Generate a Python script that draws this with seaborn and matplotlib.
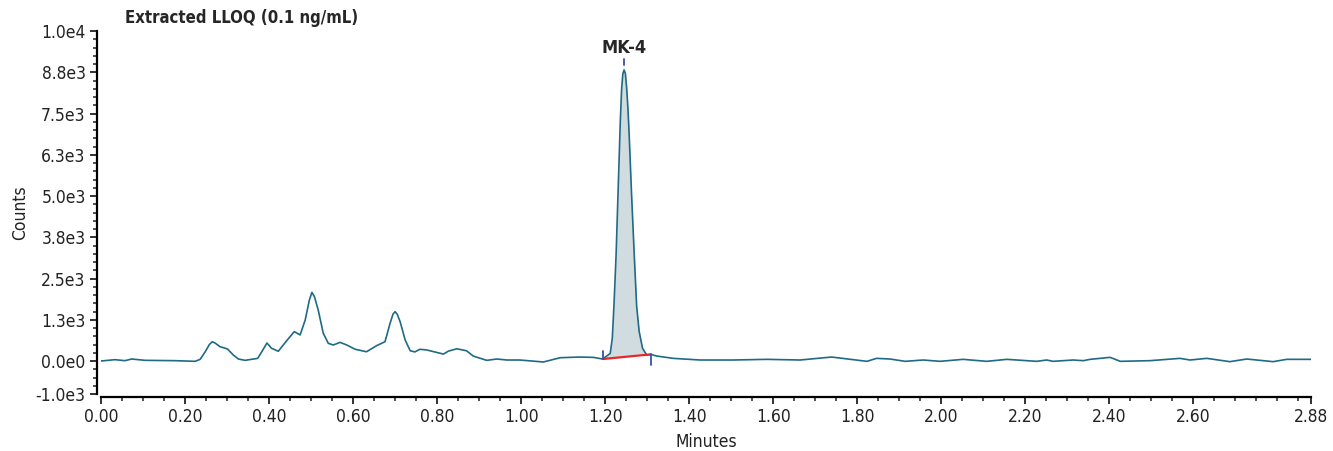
import matplotlib
matplotlib.use("Agg")
import matplotlib.pyplot as plt
import numpy as np
import pandas as pd
import seaborn as sns
from matplotlib.ticker import FixedLocator, MultipleLocator

# Chromatogram trace (minutes, counts)
minutes = [
    0.000, 0.033, 0.057, 0.073, 0.105, 0.176, 0.224, 0.236, 0.248, 0.258,
    0.265, 0.272, 0.283, 0.301, 0.315, 0.327, 0.343, 0.373, 0.385, 0.395,
    0.406, 0.422, 0.442, 0.460, 0.474, 0.486, 0.496, 0.502, 0.508, 0.517,
    0.529, 0.541, 0.553, 0.569, 0.585, 0.605, 0.632, 0.656, 0.676, 0.688,
    0.695, 0.700, 0.705, 0.712, 0.724, 0.736, 0.747, 0.759, 0.775, 0.815,
    0.827, 0.847, 0.870, 0.886, 0.918, 0.942, 0.966, 0.997, 1.053, 1.093,
    1.140, 1.172, 1.194, 1.212, 1.217, 1.221, 1.226, 1.231, 1.236, 1.239,
    1.242, 1.245, 1.248, 1.251, 1.254, 1.257, 1.263, 1.270, 1.275, 1.281,
    1.289, 1.299, 1.308, 1.323, 1.362, 1.426, 1.505, 1.585, 1.664, 1.739,
    1.823, 1.846, 1.878, 1.914, 1.957, 1.997, 2.052, 2.108, 2.156, 2.227,
    2.251, 2.266, 2.314, 2.338, 2.354, 2.402, 2.426, 2.497, 2.568, 2.592,
    2.632, 2.687, 2.727, 2.790, 2.822, 2.880,
]
counts = [
    0, 40, 10, 60, 20, 10, -10, 50, 280, 500,
    585, 540, 435, 365, 180, 60, 20, 80, 330, 545,
    385, 295, 615, 890, 790, 1240, 1850, 2080, 1950, 1545,
    840, 535, 485, 565, 485, 355, 280, 465, 585, 1140,
    1420, 1495, 1420, 1190, 635, 310, 275, 355, 335, 210,
    300, 370, 310, 150, 20, 60, 30, 30, -30, 100,
    120, 110, 60, 230, 690, 1700, 3210, 5230, 7250, 8200,
    8700, 8820, 8720, 8300, 7700, 6900, 5000, 3000, 1650, 890,
    385, 180, 200, 150, 80, 30, 30, 50, 30, 120,
    -10, 80, 60, -10, 30, -10, 50, -10, 50, -10,
    30, -10, 30, 10, 50, 110, -10, 10, 80, 30,
    80, -20, 60, -20, 50, 50,
]

# integration of the MK-4 peak
peak_name = "MK-4"
peak_start, peak_end = 1.194, 1.308
base_start, base_end = 60, 200
apex_time, apex_count = 1.245, 8980

title = "Extracted LLOQ (0.1 ng/mL)"
y_ticks = [-1000, 0, 1250, 2500, 3750, 5000, 6250, 7500, 8750, 10000]
y_labels = ["-1.0e3", "0.0e0", "1.3e3", "2.5e3", "3.8e3", "5.0e3",
            "6.3e3", "7.5e3", "8.8e3", "1.0e4"]
x_ticks = [0.0, 0.2, 0.4, 0.6, 0.8, 1.0, 1.2, 1.4, 1.6, 1.8, 2.0,
           2.2, 2.4, 2.6, 2.88]
x_labels = ["0.00", "0.20", "0.40", "0.60", "0.80", "1.00", "1.20", "1.40",
            "1.60", "1.80", "2.00", "2.20", "2.40", "2.60", "2.88"]

sns.set_style("ticks")
plt.rcParams["font.family"] = ["DejaVu Sans"]
plt.rcParams["font.stretch"] = "condensed"
plt.rcParams["font.size"] = 12

df = pd.DataFrame({"Minutes": minutes, "Counts": counts})

fig = plt.figure(figsize=(13.33, 4.51), dpi=100)
ax = fig.add_axes([101 / 1333, 1 - 394 / 451, 1210 / 1333, 363 / 451])

line_col = "#1f6a85"

# shaded peak area above the integration baseline
pk = df[(df.Minutes >= peak_start) & (df.Minutes <= peak_end)]
base = np.interp(pk.Minutes, [peak_start, peak_end], [base_start, base_end])
ax.fill_between(pk.Minutes, base, pk.Counts, color="#d0dcdf", lw=0)

sns.lineplot(data=df, x="Minutes", y="Counts", ax=ax, color=line_col,
             lw=1.2, sort=False)

ax.plot([peak_start, peak_end], [base_start, base_end], color="#e8272a", lw=1.6)
ax.plot([peak_start, peak_start], [base_start, base_start + 250], color="#3550a8", lw=1.3)
ax.plot([peak_end, peak_end], [base_end, base_end - 330], color="#3550a8", lw=1.3)
ax.plot([apex_time, apex_time], [apex_count, apex_count + 170], color="#3550a8", lw=1.3)
ax.text(apex_time, 9200, peak_name, ha="center", va="bottom",
        fontsize=13, fontweight="bold")

ax.set_xlim(0, 2.88)
ax.set_ylim(-1000, 10000)
ax.xaxis.set_major_locator(FixedLocator(x_ticks))
ax.set_xticklabels(x_labels)
ax.xaxis.set_minor_locator(MultipleLocator(0.05))
ax.yaxis.set_major_locator(FixedLocator(y_ticks))
ax.set_yticklabels(y_labels)
ax.yaxis.set_minor_locator(MultipleLocator(250))
ax.tick_params(which="major", length=5, width=1.3, labelsize=12.5,
               colors="#222222", pad=3)
ax.tick_params(which="minor", length=3, width=1.1, colors="#222222")

sns.despine(ax=ax)
ax.spines["left"].set_position(("outward", 3))
ax.spines["bottom"].set_position(("outward", 2))
for s in ["left", "bottom"]:
    ax.spines[s].set_linewidth(1.6)
    ax.spines[s].set_color("black")

ax.set_xlabel("Minutes", fontsize=12.5, labelpad=5, color="#222222")
ax.set_ylabel("Counts", fontsize=12.5, labelpad=5, color="#222222")

fig.text(125 / 1333, 1 - 18 / 451, title, ha="left", va="center",
         fontsize=12, fontweight="bold")

plt.savefig("out.png", dpi=100)
